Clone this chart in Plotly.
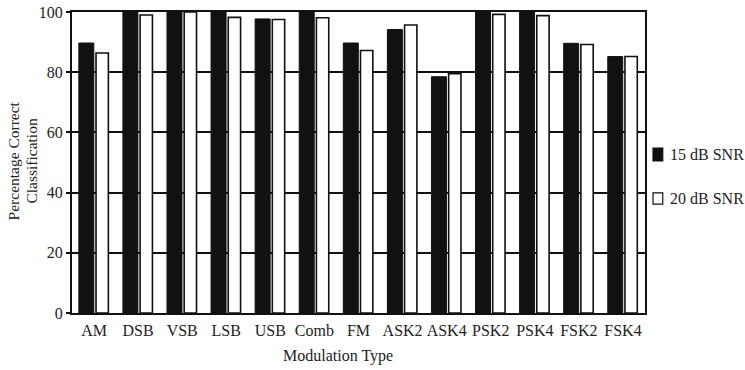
import plotly.graph_objects as go

categories = ["AM", "DSB", "VSB", "LSB", "USB", "Comb", "FM", "ASK2", "ASK4",
              "PSK2", "PSK4", "FSK2", "FSK4"]
snr15 = [89.7, 100, 100, 100, 97.7, 100, 89.7, 94.2, 78.5, 100, 100, 89.6, 85.2]
snr20 = [86.4, 99.0, 100, 98.2, 97.5, 98.1, 87.2, 95.7, 79.5, 99.2, 98.8, 89.2, 85.2]
series_names = ["15 dB SNR", "20 dB SNR"]
y_title_lines = ["Percentage Correct", "Classification"]
x_title = "Modulation Type"

font_family = "Liberation Serif, Times New Roman, serif"
ink = "#111111"

fig = go.Figure()
fig.add_trace(go.Bar(
    x=categories, y=snr15, name=series_names[0],
    marker=dict(color=ink, line=dict(color=ink, width=1)),
    width=0.34, offset=-0.345,
))
fig.add_trace(go.Bar(
    x=categories, y=snr20, name=series_names[1],
    marker=dict(color="white", line=dict(color=ink, width=1.6)),
    width=0.28, offset=0.045,
))

# Legend keys drawn beside the plot area (paper coordinates)
legend_keys = [
    dict(fill=ink, y0=0.505, y1=0.548, ty=0.527),
    dict(fill="white", y0=0.362, y1=0.399, ty=0.380),
]
shapes = []
annotations = []
for name, key in zip(series_names, legend_keys):
    shapes.append(dict(type="rect", xref="paper", yref="paper",
                       x0=1.014, x1=1.031, y0=key["y0"], y1=key["y1"],
                       fillcolor=key["fill"], line=dict(color=ink, width=1.2)))
    annotations.append(dict(text=name, xref="paper", yref="paper",
                            x=1.040, y=key["ty"], xanchor="left", yanchor="middle",
                            showarrow=False, font=dict(size=16)))

# Two-line rotated y-axis title, tightly spaced
for line, xpos in zip(y_title_lines, [-0.1005, -0.0705]):
    annotations.append(dict(text=line, xref="paper", yref="paper",
                            x=xpos, y=0.505, xanchor="center", yanchor="middle",
                            textangle=-90, showarrow=False, font=dict(size=15.5)))

# x-axis title
annotations.append(dict(text=x_title, xref="paper", yref="paper",
                        x=0.464, y=-0.143, xanchor="center", yanchor="middle",
                        showarrow=False, font=dict(size=16)))

fig.update_layout(
    width=745, height=370,
    margin=dict(l=72, r=100, t=12, b=57, autoexpand=False),
    paper_bgcolor="white", plot_bgcolor="white",
    font=dict(family=font_family, size=16, color="#222222"),
    showlegend=False,
    shapes=shapes, annotations=annotations,
)
fig.update_xaxes(
    type="category", range=[-0.5, 12.5],
    showline=True, linecolor=ink, linewidth=2, mirror=True,
    showgrid=False, ticks="", ticklabelstandoff=2,
)
fig.update_yaxes(
    range=[0, 100], tickvals=[0, 20, 40, 60, 80, 100],
    showline=True, linecolor=ink, linewidth=2, mirror=True,
    showgrid=True, gridcolor=ink, gridwidth=1.5,
    zeroline=False, ticks="outside", ticklen=4, tickwidth=1.5, tickcolor=ink,
)

fig.write_html("out.html")
